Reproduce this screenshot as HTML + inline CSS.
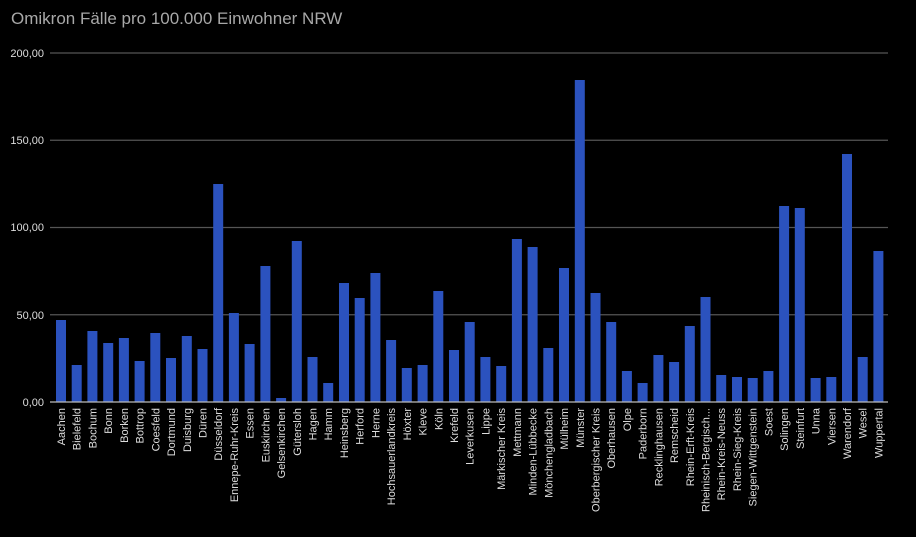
<!DOCTYPE html>
<html><head><meta charset="utf-8"><style>
html,body{margin:0;padding:0;background:#000;width:916px;height:537px;overflow:hidden}
text{font-family:"Liberation Sans",Arial,sans-serif}
</style></head><body>
<svg width="916" height="537" xmlns="http://www.w3.org/2000/svg">
<rect width="916" height="537" fill="#000"/>
<text x="11" y="24" font-size="17" fill="#a8a8a8">Omikron Fälle pro 100.000 Einwohner NRW</text>
<g stroke="#555" stroke-width="1.3">
<line x1="50" x2="888" y1="53" y2="53"/>
<line x1="50" x2="888" y1="140.25" y2="140.25"/>
<line x1="50" x2="888" y1="227.5" y2="227.5"/>
<line x1="50" x2="888" y1="314.75" y2="314.75"/>
</g>
<g font-size="11" fill="#ddd" text-anchor="end">
<text x="44" y="57">200,00</text>
<text x="44" y="144">150,00</text>
<text x="44" y="231">100,00</text>
<text x="44" y="319">50,00</text>
<text x="44" y="406">0,00</text>
</g>
<g fill="#2b52be">
<rect x="56.0" y="320" width="10" height="82"/>
<rect x="71.7" y="365" width="10" height="37"/>
<rect x="87.4" y="331" width="10" height="71"/>
<rect x="103.2" y="343" width="10" height="59"/>
<rect x="118.9" y="338" width="10" height="64"/>
<rect x="134.6" y="361" width="10" height="41"/>
<rect x="150.3" y="333" width="10" height="69"/>
<rect x="166.0" y="358" width="10" height="44"/>
<rect x="181.8" y="336" width="10" height="66"/>
<rect x="197.5" y="349" width="10" height="53"/>
<rect x="213.2" y="184" width="10" height="218"/>
<rect x="228.9" y="313" width="10" height="89"/>
<rect x="244.6" y="344" width="10" height="58"/>
<rect x="260.4" y="266" width="10" height="136"/>
<rect x="276.1" y="398" width="10" height="4"/>
<rect x="291.8" y="241" width="10" height="161"/>
<rect x="307.5" y="357" width="10" height="45"/>
<rect x="323.2" y="383" width="10" height="19"/>
<rect x="339.0" y="283" width="10" height="119"/>
<rect x="354.7" y="298" width="10" height="104"/>
<rect x="370.4" y="273" width="10" height="129"/>
<rect x="386.1" y="340" width="10" height="62"/>
<rect x="401.8" y="368" width="10" height="34"/>
<rect x="417.6" y="365" width="10" height="37"/>
<rect x="433.3" y="291" width="10" height="111"/>
<rect x="449.0" y="350" width="10" height="52"/>
<rect x="464.7" y="322" width="10" height="80"/>
<rect x="480.4" y="357" width="10" height="45"/>
<rect x="496.2" y="366" width="10" height="36"/>
<rect x="511.9" y="239" width="10" height="163"/>
<rect x="527.6" y="247" width="10" height="155"/>
<rect x="543.3" y="348" width="10" height="54"/>
<rect x="559.0" y="268" width="10" height="134"/>
<rect x="574.8" y="80" width="10" height="322"/>
<rect x="590.5" y="293" width="10" height="109"/>
<rect x="606.2" y="322" width="10" height="80"/>
<rect x="621.9" y="371" width="10" height="31"/>
<rect x="637.6" y="383" width="10" height="19"/>
<rect x="653.4" y="355" width="10" height="47"/>
<rect x="669.1" y="362" width="10" height="40"/>
<rect x="684.8" y="326" width="10" height="76"/>
<rect x="700.5" y="297" width="10" height="105"/>
<rect x="716.2" y="375" width="10" height="27"/>
<rect x="732.0" y="377" width="10" height="25"/>
<rect x="747.7" y="378" width="10" height="24"/>
<rect x="763.4" y="371" width="10" height="31"/>
<rect x="779.1" y="206" width="10" height="196"/>
<rect x="794.8" y="208" width="10" height="194"/>
<rect x="810.6" y="378" width="10" height="24"/>
<rect x="826.3" y="377" width="10" height="25"/>
<rect x="842.0" y="154" width="10" height="248"/>
<rect x="857.7" y="357" width="10" height="45"/>
<rect x="873.4" y="251" width="10" height="151"/>
</g>
<line x1="50" x2="888" y1="402" y2="402" stroke="#bbb" stroke-width="1.3"/>
<g font-size="11" fill="#ddd" text-anchor="end">
<text transform="translate(65.0,408) rotate(-90)">Aachen</text>
<text transform="translate(80.7,408) rotate(-90)">Bielefeld</text>
<text transform="translate(96.4,408) rotate(-90)">Bochum</text>
<text transform="translate(112.2,408) rotate(-90)">Bonn</text>
<text transform="translate(127.9,408) rotate(-90)">Borken</text>
<text transform="translate(143.6,408) rotate(-90)">Bottrop</text>
<text transform="translate(159.3,408) rotate(-90)">Coesfeld</text>
<text transform="translate(175.0,408) rotate(-90)">Dortmund</text>
<text transform="translate(190.8,408) rotate(-90)">Duisburg</text>
<text transform="translate(206.5,408) rotate(-90)">Düren</text>
<text transform="translate(222.2,408) rotate(-90)">Düsseldorf</text>
<text transform="translate(237.9,408) rotate(-90)">Ennepe-Ruhr-Kreis</text>
<text transform="translate(253.6,408) rotate(-90)">Essen</text>
<text transform="translate(269.4,408) rotate(-90)">Euskirchen</text>
<text transform="translate(285.1,408) rotate(-90)">Gelsenkirchen</text>
<text transform="translate(300.8,408) rotate(-90)">Gütersloh</text>
<text transform="translate(316.5,408) rotate(-90)">Hagen</text>
<text transform="translate(332.2,408) rotate(-90)">Hamm</text>
<text transform="translate(348.0,408) rotate(-90)">Heinsberg</text>
<text transform="translate(363.7,408) rotate(-90)">Herford</text>
<text transform="translate(379.4,408) rotate(-90)">Herne</text>
<text transform="translate(395.1,408) rotate(-90)">Hochsauerlandkreis</text>
<text transform="translate(410.8,408) rotate(-90)">Höxter</text>
<text transform="translate(426.6,408) rotate(-90)">Kleve</text>
<text transform="translate(442.3,408) rotate(-90)">Köln</text>
<text transform="translate(458.0,408) rotate(-90)">Krefeld</text>
<text transform="translate(473.7,408) rotate(-90)">Leverkusen</text>
<text transform="translate(489.4,408) rotate(-90)">Lippe</text>
<text transform="translate(505.2,408) rotate(-90)">Märkischer Kreis</text>
<text transform="translate(520.9,408) rotate(-90)">Mettmann</text>
<text transform="translate(536.6,408) rotate(-90)">Minden-Lübbecke</text>
<text transform="translate(552.3,408) rotate(-90)">Mönchengladbach</text>
<text transform="translate(568.0,408) rotate(-90)">Mülheim</text>
<text transform="translate(583.8,408) rotate(-90)">Münster</text>
<text transform="translate(599.5,408) rotate(-90)">Oberbergischer Kreis</text>
<text transform="translate(615.2,408) rotate(-90)">Oberhausen</text>
<text transform="translate(630.9,408) rotate(-90)">Olpe</text>
<text transform="translate(646.6,408) rotate(-90)">Paderborn</text>
<text transform="translate(662.4,408) rotate(-90)">Recklinghausen</text>
<text transform="translate(678.1,408) rotate(-90)">Remscheid</text>
<text transform="translate(693.8,408) rotate(-90)">Rhein-Erft-Kreis</text>
<text transform="translate(709.5,408) rotate(-90)">Rheinisch-Bergisch...</text>
<text transform="translate(725.2,408) rotate(-90)">Rhein-Kreis-Neuss</text>
<text transform="translate(741.0,408) rotate(-90)">Rhein-Sieg-Kreis</text>
<text transform="translate(756.7,408) rotate(-90)">Siegen-Wittgenstein</text>
<text transform="translate(772.4,408) rotate(-90)">Soest</text>
<text transform="translate(788.1,408) rotate(-90)">Solingen</text>
<text transform="translate(803.8,408) rotate(-90)">Steinfurt</text>
<text transform="translate(819.6,408) rotate(-90)">Unna</text>
<text transform="translate(835.3,408) rotate(-90)">Viersen</text>
<text transform="translate(851.0,408) rotate(-90)">Warendorf</text>
<text transform="translate(866.7,408) rotate(-90)">Wesel</text>
<text transform="translate(882.4,408) rotate(-90)">Wuppertal</text>
</g>
</svg>
</body></html>
